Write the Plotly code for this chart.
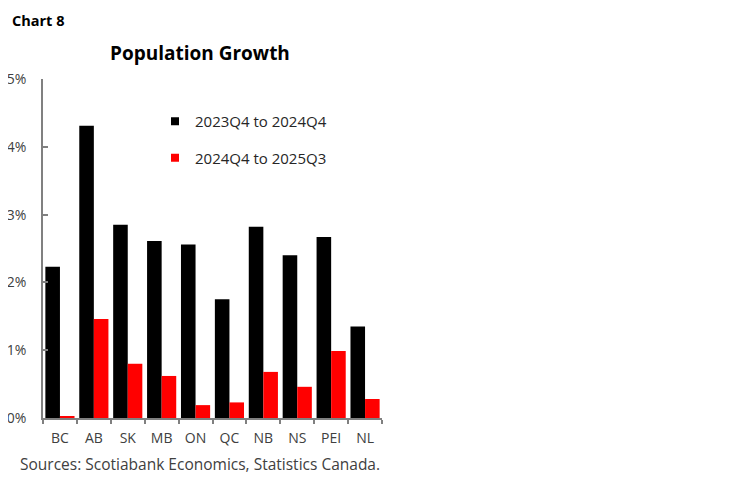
import plotly.graph_objects as go

provinces = ["BC", "AB", "SK", "MB", "ON", "QC", "NB", "NS", "PEI", "NL"]
growth_2023q4_2024q4 = [2.23, 4.31, 2.85, 2.61, 2.56, 1.75, 2.82, 2.40, 2.67, 1.35]
growth_2024q4_2025q3 = [0.02, 1.46, 0.80, 0.62, 0.19, 0.23, 0.68, 0.46, 0.99, 0.28]
series_names = ["2023Q4 to 2024Q4", "2024Q4 to 2025Q3"]
series_colors = ["#000000", "#ff0000"]
y_ticks = [0, 1, 2, 3, 4, 5]
y_tick_labels = ["0%", "1%", "2%", "3%", "4%", "5%"]

FONT = "Open Sans"
OFF = 8  # page body margin offset
W, H = 749 - OFF, 482 - OFF

fig = go.Figure()
for vals, name, col in zip([growth_2023q4_2024q4, growth_2024q4_2025q3], series_names, series_colors):
    fig.add_trace(go.Bar(x=provinces, y=vals, name=name, showlegend=False,
                         marker=dict(color=col, line=dict(width=0))))
for i, (name, col) in enumerate(zip(series_names, series_colors)):
    fig.add_trace(go.Scatter(x=[None], y=[None], mode="markers", name=name,
                             legendgroup=f"g{i}",
                             marker=dict(symbol="square", size=8, color=col)))

L, T = 43 - OFF, 79 - OFF
PW, PH = 339, 339
R, B = W - L - PW, H - T - PH
fig.update_layout(
    width=W, height=H,
    margin=dict(l=L, r=R, t=T, b=B, autoexpand=False),
    paper_bgcolor="white", plot_bgcolor="white",
    barmode="group", bargap=0.14, bargroupgap=0,
    font=dict(family=FONT, color="#404040", size=14),
    showlegend=True,
    legend=dict(x=(155 - 43) / PW, y=(418 - 105) / PH, xanchor="left", yanchor="top",
                bgcolor="rgba(0,0,0,0)", tracegroupgap=14,
                font=dict(size=15, color="#262626"), itemwidth=30),
    xaxis=dict(showline=True, linecolor="#808080", linewidth=1.5, automargin=False,
               ticks="outside", tickson="boundaries", ticklen=4, tickcolor="#808080",
               tickwidth=1.5, showgrid=False, ticklabelstandoff=6,
               tickfont=dict(size=14, color="#404040")),
    yaxis=dict(range=[0, 5], tickvals=y_ticks, ticktext=y_tick_labels, automargin=False,
               showline=True, linecolor="#808080", linewidth=1.5,
               ticks="inside", ticklen=5, tickcolor="#808080", tickwidth=1.5,
               showgrid=False, zeroline=False, ticklabelstandoff=12,
               tickfont=dict(size=14, color="#404040")),
)

def px(xp):
    return (xp - 43) / PW
def py(yp):
    return (418 - yp) / PH

anns = [
    dict(text="<b>Chart 8</b>", x=px(10), y=py(20), xanchor="left", yanchor="middle",
         font=dict(size=14.5, color="#000000")),
    dict(text="<b>Population Growth</b>", x=px(200), y=py(53), xanchor="center", yanchor="middle",
         font=dict(size=19, color="#000000")),
    dict(text="Sources: Scotiabank Economics, Statistics Canada.", x=px(18), y=py(464),
         xanchor="left", yanchor="middle", font=dict(size=15.5, color="#404040")),
]
fig.update_layout(annotations=[dict(a, xref="paper", yref="paper", showarrow=False) for a in anns])

fig.write_html("out.html")
